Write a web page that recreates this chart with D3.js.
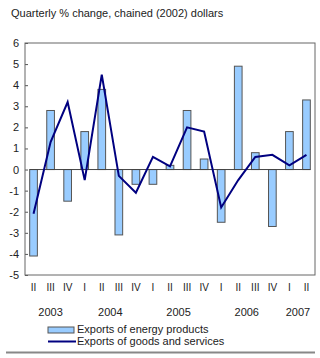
<!DOCTYPE html>
<html>
<head>
<meta charset="utf-8">
<script src="https://cdn.jsdelivr.net/npm/d3@7"></script>
<style>
  body { margin: 0; background: #fff; }
  text { font-family: "Liberation Sans", Arial, sans-serif; fill: #222; }
</style>
</head>
<body>
<div class="canvas"></div>
<script>
// quarters from 2003 II to 2007 II
const quarters = ["2003Q2", "2003Q3", "2003Q4", "2004Q1", "2004Q2", "2004Q3", "2004Q4",
  "2005Q1", "2005Q2", "2005Q3", "2005Q4", "2006Q1", "2006Q2", "2006Q3", "2006Q4",
  "2007Q1", "2007Q2"];
const quarterLabels = ["II", "III", "IV", "I", "II", "III", "IV", "I", "II", "III", "IV",
  "I", "II", "III", "IV", "I", "II"];
const years = ["2003", "2004", "2005", "2006", "2007"];
const energy = [-4.1, 2.8, -1.5, 1.8, 3.8, -3.1, -0.7, -0.7, 0.2, 2.8, 0.5, -2.5, 4.9, 0.8, -2.7, 1.8, 3.3];
const goods = [-2.1, 1.3, 3.2, -0.5, 4.5, -0.3, -1.1, 0.6, 0.15, 2.0, 1.8, -1.8, -0.5, 0.6, 0.7, 0.2, 0.7];
const yTicks = [-5, -4, -3, -2, -1, 0, 1, 2, 3, 4, 5, 6];

const w = 320;
const h = 358;

const svg = d3.select(".canvas").append("svg").attr("width", w).attr("height", h);

// title
svg.append("text")
  .attr("x", 11)
  .attr("y", 17)
  .attr("font-size", 11)
  .text("Quarterly % change, chained (2002) dollars");

// plot frame
const margin = { left: 25, right: 315, top: 43, bottom: 275 };

const x = d3.scaleBand().domain(quarters).range([margin.left, margin.right]);
const y = d3.scaleLinear().domain([-5, 6]).range([margin.bottom, margin.top]);
const barW = x.bandwidth() * 0.45;

// y axis with small inner ticks, plain hyphen for negatives
const yAxis = d3.axisLeft(y).tickValues(yTicks).tickSize(-3).tickPadding(6).tickFormat(d => String(d));
const yAxisGroup = svg.append("g").attr("transform", `translate(${margin.left},0)`).call(yAxis);
yAxisGroup.select(".domain").remove();
yAxisGroup.selectAll("line").attr("stroke", "#555");
yAxisGroup.selectAll("text").attr("font-size", 11).attr("font-family", "Liberation Sans, Arial, sans-serif").attr("fill", "#222");

svg.append("rect")
  .attr("x", margin.left)
  .attr("y", margin.top)
  .attr("width", margin.right - margin.left)
  .attr("height", margin.bottom - margin.top)
  .attr("fill", "none")
  .attr("stroke", "#666")
  .attr("stroke-width", 1);

// bars
svg.append("g")
  .selectAll("rect")
  .data(energy)
  .enter()
  .append("rect")
  .attr("x", (d, i) => x(quarters[i]) + x.bandwidth() / 2 - barW / 2)
  .attr("y", d => y(Math.max(0, d)))
  .attr("width", barW)
  .attr("height", d => Math.abs(y(d) - y(0)))
  .attr("fill", "#99ccff")
  .attr("stroke", "#555")
  .attr("stroke-width", 1);

// zero line
const x0 = x(quarters[0]) + x.bandwidth() / 2 - barW / 2;
const x1 = x(quarters[quarters.length - 1]) + x.bandwidth() / 2 + barW / 2;
svg.append("line")
  .attr("x1", x0).attr("x2", x1)
  .attr("y1", y(0)).attr("y2", y(0))
  .attr("stroke", "#444");

// line
const line = d3.line()
  .x((d, i) => x(quarters[i]) + x.bandwidth() / 2)
  .y(d => y(d));
svg.append("path")
  .datum(goods)
  .attr("d", line)
  .attr("fill", "none")
  .attr("stroke", "#000080")
  .attr("stroke-width", 2)
  .attr("stroke-linejoin", "miter");

// quarter labels
svg.append("g")
  .selectAll("text")
  .data(quarterLabels)
  .enter()
  .append("text")
  .attr("x", (d, i) => x(quarters[i]) + x.bandwidth() / 2)
  .attr("y", 291)
  .attr("text-anchor", "middle")
  .attr("font-size", 10)
  .text(d => d);

// year labels, centred under their quarters
svg.append("g")
  .selectAll("text")
  .data(years)
  .enter()
  .append("text")
  .attr("x", yr => {
    const qs = quarters.filter(q => q.startsWith(yr));
    return (x(qs[0]) + x(qs[qs.length - 1]) + x.bandwidth()) / 2;
  })
  .attr("y", 316)
  .attr("text-anchor", "middle")
  .attr("font-size", 11)
  .text(d => d);

// legend
const legend = svg.append("g");
legend.append("rect")
  .attr("x", 48).attr("y", 327)
  .attr("width", 26).attr("height", 6)
  .attr("fill", "#99ccff").attr("stroke", "#555");
legend.append("text")
  .attr("x", 77).attr("y", 333)
  .attr("font-size", 11)
  .text("Exports of energy products");
legend.append("line")
  .attr("x1", 48).attr("x2", 76)
  .attr("y1", 341.5).attr("y2", 341.5)
  .attr("stroke", "#000080").attr("stroke-width", 2);
legend.append("text")
  .attr("x", 77).attr("y", 345)
  .attr("font-size", 11)
  .text("Exports of goods and services");

// bottom rule
svg.append("line")
  .attr("x1", 6).attr("x2", 315)
  .attr("y1", 352.5).attr("y2", 352.5)
  .attr("stroke", "#888").attr("stroke-width", 2);
</script>
</body>
</html>
